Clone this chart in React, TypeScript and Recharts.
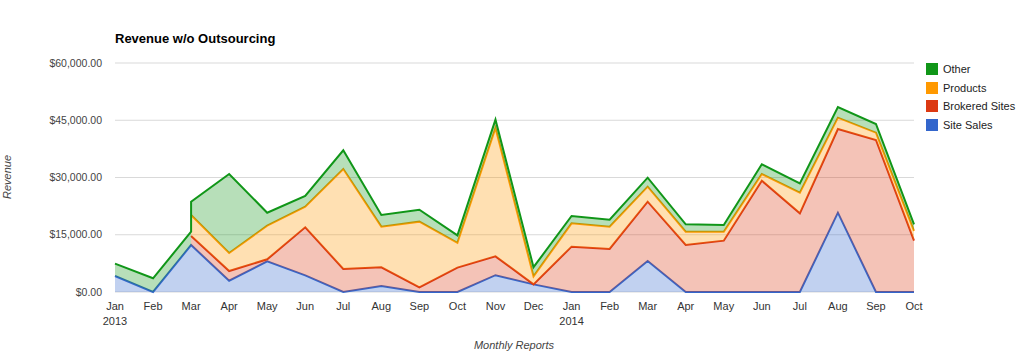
import { AreaChart, Area, XAxis, YAxis, CartesianGrid } from "recharts";

const MONTHS = ["Jan", "Feb", "Mar", "Apr", "May", "Jun", "Jul", "Aug", "Sep", "Oct", "Nov", "Dec", "Jan", "Feb", "Mar", "Apr", "May", "Jun", "Jul", "Aug", "Sep", "Oct"];
const YEARS: Record<number, string> = { 0: "2013", 12: "2014" };

const siteSales = [4200, 0, 12300, 2960, 8040, 4370, 0, 1570, 0, 0, 4400, 2000, 0, 0, 8120, 0, 0, 0, 0, 20780, 0, 0];
const brokeredSites = [null, null, 2370, 2540, 520, 12580, 6030, 4890, 1220, 6400, 4940, 0, 11880, 11270, 15540, 12310, 13450, 29170, 20610, 21930, 39830, 13450];
const products = [null, null, 5500, 4720, 8820, 5400, 26200, 10660, 17210, 6500, 33660, 2100, 6120, 5850, 3940, 3490, 2350, 1750, 5410, 2970, 1920, 2550];
const other = [3220, 3590, 3490, 20700, 3400, 2800, 4890, 3050, 3140, 1950, 2150, 2400, 1910, 1830, 2350, 1930, 1750, 2530, 2450, 2790, 2270, 1700];

const Y_TICKS = [0, 15000, 30000, 45000, 60000];

// bottom to top, like the stacking
const SERIES = [
  { key: "sales", name: "Site Sales", color: "#3366cc" },
  { key: "brokered", name: "Brokered Sites", color: "#dc3912" },
  { key: "products", name: "Products", color: "#ff9900" },
  { key: "other", name: "Other", color: "#109618" },
];

const FONT = "Arial, 'Liberation Sans', sans-serif";

type Row = { x: number; sales: number | null; brokered: number | null; products: number | null; other: number | null };

// a series that was null in the previous month starts with a vertical edge (as in the source chart)
const rows: Row[] = [];
MONTHS.forEach((_, i) => {
  const row: Row = { x: i, sales: siteSales[i], brokered: brokeredSites[i], products: products[i], other: other[i] };
  const prev = rows[rows.length - 1];
  if (prev) {
    const starting = (["brokered", "products"] as const).filter((k) => prev[k] == null && row[k] != null);
    if (starting.length) {
      const edge: Row = { ...row };
      starting.forEach((k) => (edge[k] = null));
      rows.push(edge);
    }
  }
  rows.push(row);
});

function money(v: number) {
  return "$" + v.toLocaleString("en-US", { minimumFractionDigits: 2, maximumFractionDigits: 2 });
}

function MonthTick(props: any) {
  const { x, y, payload } = props;
  const i = payload.value as number;
  return (
    <g>
      <text x={x} y={y + 18} textAnchor="middle" fontSize={11} fill="#333" fontFamily={FONT}>
        {MONTHS[i]}
      </text>
      {YEARS[i] && (
        <text x={x} y={y + 33} textAnchor="middle" fontSize={11} fill="#333" fontFamily={FONT}>
          {YEARS[i]}
        </text>
      )}
    </g>
  );
}

function LegendList() {
  return (
    <div style={{ position: "absolute", left: 926, top: 60, fontFamily: FONT, fontSize: 11, color: "#222" }}>
      {[...SERIES].reverse().map((s) => (
        <div key={s.key} style={{ display: "flex", alignItems: "center", height: 18.6 }}>
          <span style={{ width: 12, height: 12, background: s.color, display: "inline-block", marginRight: 5 }} />
          {s.name}
        </div>
      ))}
    </div>
  );
}

export default function App() {
  return (
    <div style={{ position: "absolute", left: 0, top: 0, width: 1020, height: 354, background: "#fff" }}>
      <div style={{ position: "absolute", left: 115, top: 32, fontFamily: FONT, fontSize: 13, fontWeight: "bold", lineHeight: "13px", color: "#000" }}>
        Revenue w/o Outsourcing
      </div>
      <AreaChart width={1020} height={354} data={rows} margin={{ top: 63, right: 106, bottom: 0, left: 15 }}>
        <CartesianGrid vertical={false} stroke="#d9d9d9" />
        <XAxis
          dataKey="x"
          type="number"
          domain={[0, 21]}
          ticks={MONTHS.map((_, i) => i)}
          interval={0}
          axisLine={false}
          tickLine={false}
          tickSize={0}
          tickMargin={0}
          tick={<MonthTick />}
          height={62}
          label={{
            content: () => (
              <text x={514} y={349} textAnchor="middle" fontSize={11} fontStyle="italic" fill="#444" fontFamily={FONT}>
                Monthly Reports
              </text>
            ),
          }}
        />
        <YAxis
          domain={[0, 60000]}
          ticks={Y_TICKS}
          tickFormatter={money}
          axisLine={false}
          tickLine={false}
          tickSize={0}
          tickMargin={13}
          width={100}
          tick={{ fontSize: 10.5, fill: "#444", fontFamily: FONT }}
          label={{
            content: () => (
              <text x={11} y={177} transform="rotate(-90, 11, 177)" textAnchor="middle" fontSize={11} fontStyle="italic" fill="#444" fontFamily={FONT}>
                Revenue
              </text>
            ),
          }}
        />
        {SERIES.map((s) => (
          <Area
            key={s.key}
            type="linear"
            dataKey={s.key}
            name={s.name}
            stackId="rev"
            stroke={s.color}
            strokeWidth={2}
            fill={s.color}
            fillOpacity={0.3}
            dot={false}
            activeDot={false}
            isAnimationActive={false}
          />
        ))}
      </AreaChart>
      <LegendList />
    </div>
  );
}
